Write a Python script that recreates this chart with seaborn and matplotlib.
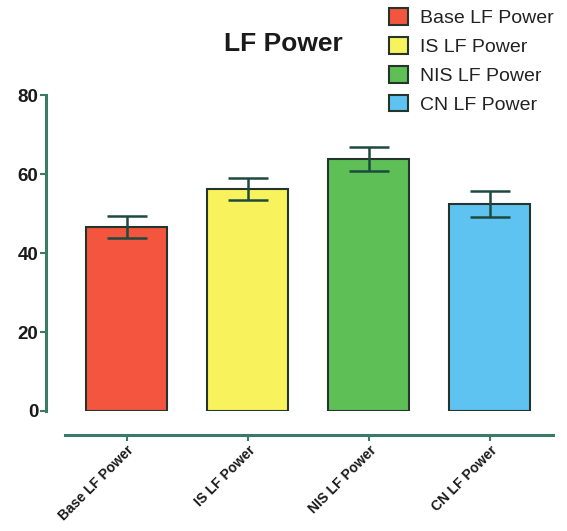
import matplotlib
matplotlib.use("Agg")
import matplotlib.pyplot as plt
import seaborn as sns
import pandas as pd

# Values
groups = ["Base LF Power", "IS LF Power", "NIS LF Power", "CN LF Power"]
means = [46.6, 56.2, 63.8, 52.4]
sem = [2.8, 2.9, 3.0, 3.2]
colors = ["#f4553e", "#f8f35c", "#5dbf55", "#5fc3f2"]

df = pd.DataFrame({"group": groups, "value": means})

sns.set_style("white")
plt.rcParams["font.family"] = ["Liberation Sans", "DejaVu Sans"]

fig = plt.figure(figsize=(5.67, 5.31), dpi=100)
ax = fig.add_axes([0.1146, 0.226, 0.975 - 0.1146, 0.821 - 0.226])

sns.barplot(data=df, x="group", y="value", hue="group", palette=colors,
            saturation=1, width=0.67, edgecolor="#25352c", linewidth=1.5,
            legend=True, ax=ax)

# Mean +/- SEM error bars
ax.errorbar(range(len(groups)), means, yerr=sem, fmt="none",
            ecolor="#1d4a3e", elinewidth=1.8, capsize=14.5, capthick=1.8, zorder=3)

ax.set_ylim(0, 80)
ax.set_xlim(-0.51, 3.52)
ax.set_yticks([0, 20, 40, 60, 80])
ax.set_xlabel("")
ax.set_ylabel("")

for side in ["top", "right"]:
    ax.spines[side].set_visible(False)
ax.spines["left"].set_position(("outward", 14))
ax.spines["bottom"].set_position(("outward", 17))
for side in ["left", "bottom"]:
    ax.spines[side].set_color("#3c7a68")
    ax.spines[side].set_linewidth(2.2)

ax.tick_params(axis="y", which="both", left=True, length=4, width=1.5,
               color="#3c7a68", labelsize=13.5, pad=1)
ax.tick_params(axis="x", which="both", bottom=True, length=4, width=1.5,
               color="#3c7a68", labelsize=10, pad=2)
for lbl in ax.get_yticklabels():
    lbl.set_fontweight("bold")
    lbl.set_color("#1a1a1a")
for lbl in ax.get_xticklabels():
    lbl.set_fontweight("bold")
    lbl.set_rotation(45)
    lbl.set_ha("right")
    lbl.set_rotation_mode("anchor")
    lbl.set_color("#1a1a1a")

fig.text(0.5, 0.918, "LF Power", ha="center", va="center",
         fontsize=19, fontweight="bold", color="#1a1a1a")

sns.move_legend(ax, loc="upper left", bbox_to_anchor=(0.673, 0.999),
                bbox_transform=fig.transFigure, frameon=False, title=None,
                fontsize=14, handlelength=0.95, handleheight=0.95,
                handletextpad=0.6, labelspacing=0.5, borderaxespad=0)
leg = ax.get_legend()
for h in leg.legend_handles:
    h.set_edgecolor("#25352c")
    h.set_linewidth(1.5)
for t in leg.get_texts():
    t.set_color("#222222")

fig.savefig("out.png", dpi=100)
